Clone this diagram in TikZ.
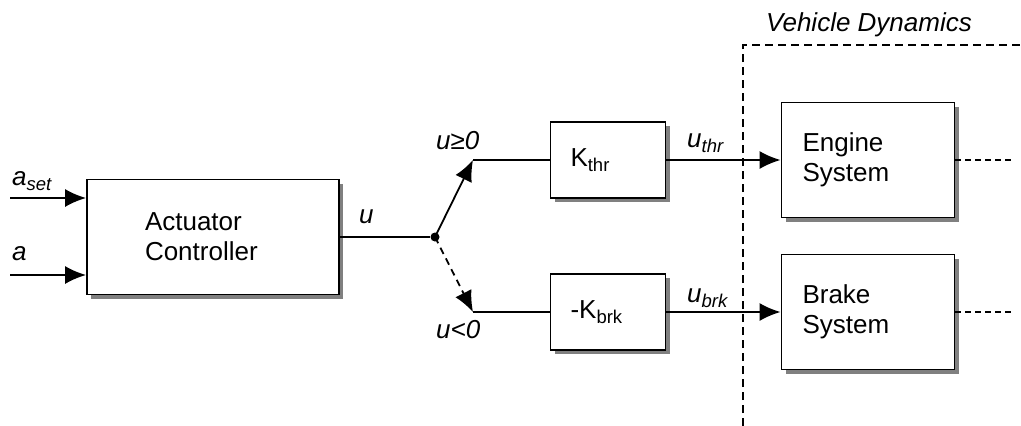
\documentclass[tikz,border=0pt]{standalone}
\usepackage{fontspec}
\setmainfont{Liberation Sans}
\usepackage{tikz}
\usetikzlibrary{positioning, arrows.meta, shadows}

\newcommand{\bigfont}{\fontsize{26}{30}\selectfont}
\newcommand{\subtxt}[1]{\raisebox{-5pt}{\fontsize{18.5}{18.5}\selectfont #1}}

\begin{document}
\begin{tikzpicture}[x=1pt, y=-1pt,
        block/.style={draw, line width=1.8pt, fill=white, align=left,
            minimum height=115pt, font=\bigfont,
            drop shadow={shadow xshift=4pt, shadow yshift=-4pt, fill=black!50, opacity=1}},
        gain/.style={block, minimum height=76pt, inner xsep=20pt, text width=75pt},
        system/.style={block, inner xsep=21pt, text width=131pt},
        signal/.style={line width=1.8pt},
        arrow/.style={signal, -{Latex[length=21pt, width=18pt]}},
        sig label/.style={anchor=base west, font=\bigfont\itshape, inner sep=0pt},
        frame/.style={line width=1.8pt, dash pattern=on 8pt off 5pt}
    ]

    % Fix the picture size
    \useasboundingbox (0,0) rectangle (1021,426);

    % Vehicle dynamics frame (drawn first, lines pass over it)
    \coordinate (vd corner) at (743,45);
    \draw[frame] (vd corner |- 0,426) -- (vd corner) -- (1021,45);
    \node[sig label] (vd lbl) at (766,31) {Vehicle Dynamics};

    % Blocks
    \node[block, inner xsep=58pt, text width=136pt] (ctrl) at (213,237) {Actuator\\Controller};
    \node[gain] (kthr) at (608,160) {K\subtxt{thr}};
    \node[gain] (kbrk) at (608,312) {-K\subtxt{brk}};
    \node[system] (engine) at (868,160) {Engine\\System};
    \node[system] (brake) at (868,312) {Brake\\System};

    % Inputs of the controller
    \coordinate (aset in) at (10,198);
    \coordinate (a in) at (10,275);
    \draw[arrow] (aset in) -- (aset in -| ctrl.west);
    \draw[arrow] (a in) -- (a in -| ctrl.west);
    \node[sig label] (aset lbl) at (12,185) {a\subtxt{set}};
    \node[sig label] (a lbl) at (12,260) {a};

    % Switch between throttle and brake
    \node[circle, fill, inner sep=0pt, minimum size=9pt] (split) at (435,237) {};
    \coordinate (up) at (473,160);
    \coordinate (down) at (473,312);
    \draw[signal] (ctrl.east) -- (split);
    \draw[arrow] (split.center) -- (up);
    \draw[arrow, dash pattern=on 7pt off 5pt] (split.center) -- (down);
    \draw[signal] (up) -- (kthr.west);
    \draw[signal] (down) -- (kbrk.west);
    \node[sig label] (u lbl) at (359,223) {u};
    \node[sig label] (pos lbl) at (436,149) {u≥0};
    \node[sig label] (neg lbl) at (436,338) {u<0};

    % Actuator signals
    \draw[arrow] (kthr.east) -- (engine.west);
    \draw[arrow] (kbrk.east) -- (brake.west);
    \node[sig label] (uthr lbl) at (687,147) {u\subtxt{thr}};
    \node[sig label] (ubrk lbl) at (687,302) {u\subtxt{brk}};

    % Outputs continue outside the picture
    \coordinate (eng out) at (1013,160);
    \coordinate (brk out) at (1013,312);
    \draw[signal, dash pattern=on 6pt off 4pt] (engine.east) -- (eng out);
    \draw[signal, dash pattern=on 6pt off 4pt] (brake.east) -- (brk out);

\end{tikzpicture}
\end{document}
